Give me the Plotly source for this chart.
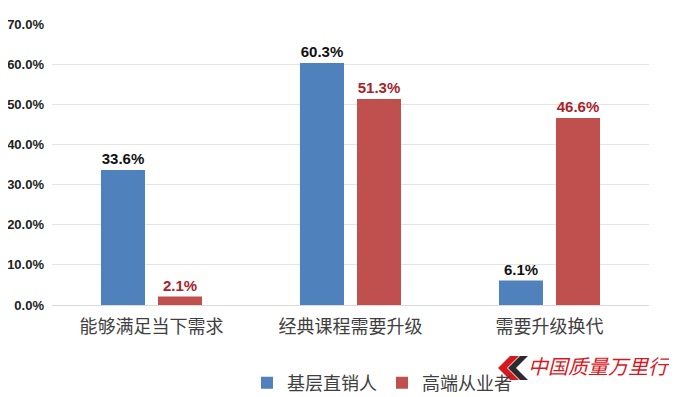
import plotly.graph_objects as go

categories = ["能够满足当下需求", "经典课程需要升级", "需要升级换代"]
series_names = ["基层直销人", "高端从业者"]
basic_values = [33.6, 60.3, 6.1]
senior_values = [2.1, 51.3, 46.6]
y_ticks = [0, 10, 20, 30, 40, 50, 60, 70]
y_tick_labels = [f"{v:.1f}%" for v in y_ticks]

W, H = 677, 397
OFF = 8  # page body margin offset
L, T = 52 - OFF, 24 - OFF
pw, ph = 597, 281
R = W - L - pw
B = H - T - ph

def px_to_paper(x, y):
    fx, fy = x - OFF, y - OFF
    return (fx - L) / pw, (T + ph - fy) / ph

fig = go.Figure()
fig.add_trace(go.Bar(
    x=categories, y=basic_values, name=series_names[0],
    marker=dict(color="#4F81BD", line=dict(width=0)),
    text=[f"{v:.1f}%" for v in basic_values], textposition="outside",
    textfont=dict(family="Liberation Sans, Arial", size=15, color="#111111"),
    cliponaxis=False,
))
fig.add_trace(go.Bar(
    x=categories, y=senior_values, name=series_names[1],
    marker=dict(color="#C0504D", line=dict(width=0)),
    text=[f"{v:.1f}%" for v in senior_values], textposition="outside",
    textfont=dict(family="Liberation Sans, Arial", size=15, color="#A8232B"),
    cliponaxis=False,
))

# watermark logo (decorative)
def path(points):
    pts = [px_to_paper(x, y) for x, y in points]
    return "M " + " L ".join(f"{a:.4f},{b:.4f}" for a, b in pts) + " Z"

fig.add_shape(type="path", xref="paper", yref="paper",
              path=path([(510, 356), (519, 356), (507, 368), (519, 380), (510, 380), (498, 368)]),
              fillcolor="#D7191F", line=dict(width=0))
fig.add_shape(type="path", xref="paper", yref="paper",
              path=path([(520, 356), (528, 356), (516, 368), (528, 380), (520, 380), (508, 368)]),
              fillcolor="#2B2B2B", line=dict(width=0))
wx, wy = px_to_paper(526, 365)
fig.add_annotation(x=wx, y=wy, xref="paper", yref="paper", xanchor="left", yanchor="middle",
                   text="<i>中国质量万里行</i>", showarrow=False,
                   font=dict(family="Noto Sans CJK SC", size=20, color="#D7191F"))

lx, ly = px_to_paper(382, 383)
fig.update_layout(
    width=W, height=H,
    margin=dict(l=L, r=R, t=T, b=B, autoexpand=False),
    paper_bgcolor="white", plot_bgcolor="white",
    barmode="group", bargap=0.427, bargroupgap=0.228,
    font=dict(family="Noto Sans CJK SC, Liberation Sans", color="#404040"),
    legend=dict(orientation="h", x=lx, y=ly, xanchor="center", yanchor="middle",
                font=dict(family="Noto Sans CJK SC", size=18, color="#404040"),
                itemwidth=30, tracegroupgap=0, bgcolor="rgba(0,0,0,0)"),
    xaxis=dict(showgrid=False, showline=False, zeroline=False, ticks="",
               ticklabelstandoff=9,
               tickfont=dict(family="Noto Sans CJK SC", size=18, color="#404040")),
    yaxis=dict(range=[0, 70], tickvals=y_ticks, ticktext=y_tick_labels,
               showgrid=True, gridcolor="#E3E3E3", gridwidth=1,
               zeroline=True, zerolinecolor="#D9D9D9", zerolinewidth=1,
               showline=False, ticks="", ticklabelstandoff=7,
               tickfont=dict(family="Liberation Sans, Arial", size=13, color="#222222", weight="bold")),
)
fig.update_traces(textfont_weight="bold")
fig.write_html("out.html")
